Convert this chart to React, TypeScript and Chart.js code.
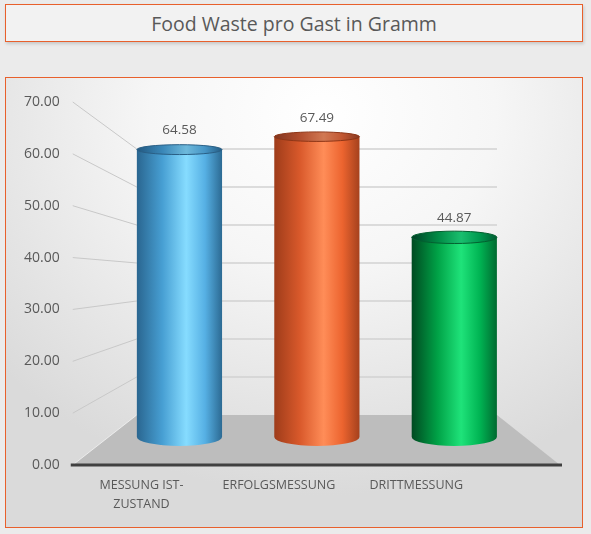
import { useEffect, useRef } from "react";
import { Chart, registerables } from "chart.js";

Chart.register(...registerables);

const categories = [["MESSUNG IST-", "ZUSTAND"], "ERFOLGSMESSUNG", "DRITTMESSUNG"];
const values = [64.58, 67.49, 44.87];
const yMin = 0;
const yMax = 70;
const yStep = 10;

// horizontal shading across each cylinder, left edge -> right edge
const bodyShades = [
  ["#2a6690", "#479fd3", "#86dcff", "#56b0e4", "#2c6a93"],
  ["#9e3c1a", "#d9592b", "#ff8d58", "#ec642f", "#a5411d"],
  ["#004a21", "#00a146", "#1fe37a", "#00b453", "#006a30"],
];
const capEdges = ["#2a5f85", "#8e3617", "#046030"];

const TEXT = "#595959";

const cylinders = {
  id: "cylinders",
  beforeDatasetsDraw(chart: any) {
    const { ctx, chartArea: ca, scales } = chart;
    const y = scales.y;
    const yb = scales.yBack;
    const backL = ca.left + 26;
    const backR = ca.right - 26;
    const frontL = ca.left - 38;
    const frontR = ca.right + 37;
    const b0 = yb.getPixelForValue(0);
    const f0 = y.getPixelForValue(0);
    ctx.save();
    // floor
    ctx.fillStyle = "#bdbdbd";
    ctx.beginPath();
    ctx.moveTo(backL, b0);
    ctx.lineTo(backR, b0);
    ctx.lineTo(frontR, f0);
    ctx.lineTo(frontL, f0);
    ctx.closePath();
    ctx.fill();
    ctx.strokeStyle = "rgba(255,255,255,0.6)";
    ctx.lineWidth = 1;
    ctx.beginPath();
    ctx.moveTo(frontL, f0);
    ctx.lineTo(backL, b0);
    ctx.stroke();
    // wall grid lines
    y.ticks.forEach((t: any) => {
      if (t.value === 0) return;
      const pb = yb.getPixelForValue(t.value);
      ctx.strokeStyle = "#d2d2d2";
      ctx.lineWidth = 1.5;
      ctx.beginPath();
      ctx.moveTo(backL, pb);
      ctx.lineTo(backR, pb);
      ctx.stroke();
      ctx.strokeStyle = "#c8c8c8";
      ctx.lineWidth = 1;
      ctx.beginPath();
      ctx.moveTo(frontL, y.getPixelForValue(t.value));
      ctx.lineTo(backL, pb);
      ctx.stroke();
    });
    // front edge
    ctx.strokeStyle = "#404040";
    ctx.lineWidth = 3;
    ctx.beginPath();
    ctx.moveTo(frontL - 2, f0);
    ctx.lineTo(frontR + 2, f0);
    ctx.stroke();
    ctx.restore();
  },
  afterDatasetsDraw(chart: any) {
    const { ctx, scales } = chart;
    const yBar = scales.yBar;
    const p0 = yBar.getPixelForValue(0);
    const pTop = yBar.getPixelForValue(yMax);
    const ryAt = (py: number) => 4.6 + (4.4 * (py - pTop)) / (p0 - pTop);
    const meta = chart.getDatasetMeta(0);
    meta.data.forEach((bar: any, i: number) => {
      const { x, y, base, width } = bar.getProps(["x", "y", "base", "width"], true);
      const rx = width / 2;
      const ryT = ryAt(y);
      const ryB = ryAt(base);
      ctx.save();
      const g = ctx.createLinearGradient(x - rx, 0, x + rx, 0);
      const pos = [0, 0.3, 0.58, 0.8, 1];
      bodyShades[i].forEach((c, k) => g.addColorStop(pos[k], c));
      ctx.fillStyle = g;
      ctx.beginPath();
      ctx.moveTo(x - rx, y);
      ctx.lineTo(x - rx, base);
      ctx.ellipse(x, base, rx, ryB, 0, Math.PI, 0, true);
      ctx.lineTo(x + rx, y);
      ctx.closePath();
      ctx.fill();
      // top cap: same shading, a little darker
      ctx.beginPath();
      ctx.ellipse(x, y, rx, ryT, 0, 0, Math.PI * 2);
      ctx.fill();
      ctx.fillStyle = "rgba(0,30,60,0.18)";
      ctx.fill();
      ctx.strokeStyle = capEdges[i];
      ctx.lineWidth = 1;
      ctx.stroke();
      // value label
      ctx.fillStyle = TEXT;
      ctx.font = "13.5px 'Open Sans', sans-serif";
      ctx.textAlign = "center";
      ctx.textBaseline = "middle";
      ctx.fillText(values[i].toFixed(2), x, y - 19);
      ctx.restore();
    });
  },
};

const App = () => {
  const chartRef = useRef<HTMLCanvasElement | null>(null);

  useEffect(() => {
    if (!chartRef.current) return;
    const ctx = chartRef.current.getContext("2d");
    if (!ctx) return;
    Chart.defaults.font.family = "'Open Sans', sans-serif";

    const myChart = new Chart(ctx, {
      type: "bar",
      data: {
        labels: categories,
        datasets: [
          {
            data: values,
            yAxisID: "yBar",
            backgroundColor: "rgba(0,0,0,0)",
            borderWidth: 0,
            barPercentage: 0.62,
            categoryPercentage: 1,
          },
        ],
      },
      options: {
        responsive: false,
        animation: false,
        layout: { padding: { top: 24, right: 59, left: 0, bottom: 0 } },
        plugins: { legend: { display: false }, tooltip: { enabled: false } },
        scales: {
          x: {
            grid: { display: false },
            border: { display: false },
            afterFit: (scale: any) => {
              scale.height = 62;
            },
            ticks: {
              color: TEXT,
              font: { size: 12.5, lineHeight: 1.5 },
              padding: 3,
              labelOffset: -38,
              maxRotation: 0,
              autoSkip: false,
            },
          },
          y: {
            min: yMin,
            max: yMax,
            // invisible tick marks keep the labels away from the floor edge
            grid: { display: false, drawTicks: true, tickLength: 48 },
            border: { display: false },
            afterFit: (scale: any) => {
              scale.width = 104.75;
            },
            ticks: {
              stepSize: yStep,
              color: TEXT,
              font: { size: 14 },
              padding: 3,
              callback: (v: any) => Number(v).toFixed(2),
            },
          },
          // depth of the cylinders (middle of the floor)
          yBar: { display: false, min: -6.29, max: 75.28 },
          // back wall
          yBack: { display: false, min: -13.16, max: 82.37 },
        },
      },
      plugins: [cylinders],
    });

    return () => {
      myChart.destroy();
    };
  }, []);

  return (
    <div
      style={{
        position: "absolute",
        left: 0,
        top: 0,
        width: 591,
        height: 534,
        background: "#ebebeb",
        fontFamily: "'Open Sans', sans-serif",
      }}
    >
      <div
        style={{
          position: "absolute",
          left: 5,
          top: 4,
          width: 578,
          height: 38,
          boxSizing: "border-box",
          border: "1px solid #e8602c",
          background: "#f2f2f2",
          boxShadow: "1px 2px 3px rgba(0,0,0,0.15)",
          textAlign: "center",
          lineHeight: "37px",
          fontSize: 19.5,
          color: TEXT,
        }}
      >
        Food Waste pro Gast in Gramm
      </div>
      <div
        style={{
          position: "absolute",
          left: 5,
          top: 77,
          width: 578,
          height: 451,
          boxSizing: "border-box",
          border: "1px solid #e8602c",
          background:
            "radial-gradient(ellipse 75% 85% at 55% 8%, #ffffff 0%, #f6f6f6 40%, #dadada 100%)",
        }}
      >
        <canvas ref={chartRef} width="576" height="449"></canvas>
      </div>
    </div>
  );
};

export default App;
